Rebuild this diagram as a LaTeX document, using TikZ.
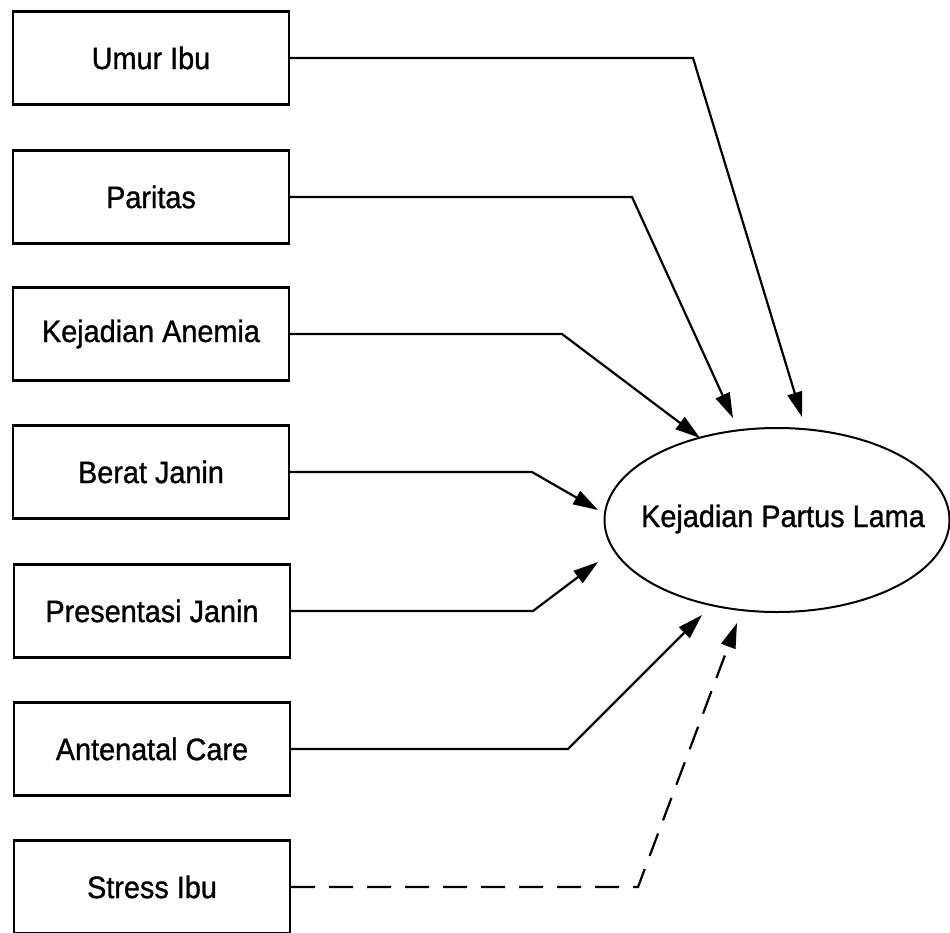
\documentclass[tikz,border=0pt]{standalone}
\usepackage{fontspec}
\setmainfont{Liberation Sans}[FakeStretch=0.93,FakeBold=1]
\usetikzlibrary{shapes.geometric,arrows.meta}
\begin{document}
\begin{tikzpicture}[x=1pt,y=-1pt,
  varbox/.style={draw, line width=2.4pt, minimum width=276pt, minimum height=93pt, inner sep=0pt, font=\fontsize{31}{36}\selectfont},
  outcome/.style={draw, ellipse, line width=2pt, minimum width=345pt, minimum height=184pt, inner sep=0pt},
  txt/.style={inner sep=0pt, font=\fontsize{31}{36}\selectfont},
  link/.style={line width=2.2pt, -{Triangle[length=25pt,width=15pt]}},
  dlink/.style={link, dash pattern=on 24pt off 14pt}]
\useasboundingbox (0,0) rectangle (950,932);
\node[varbox] (u) at (151,58) {Umur Ibu};
\node[varbox] (p) at (151,197) {Paritas};
\node[varbox] (a) at (151,334) {Kejadian Anemia};
\node[varbox] (b) at (151,472) {Berat Janin};
\node[varbox] (s) at (152,611) {Presentasi Janin};
\node[varbox] (c) at (152,749) {Antenatal Care};
\node[varbox] (i) at (152,887) {Stress Ibu};
\node[outcome] (k) at (777,520) {};
\node[txt] (kt) at (783,519) {Kejadian Partus Lama};
\coordinate (bu) at (693,58);  \coordinate (tu) at (802,417);
\coordinate (bp) at (632,197); \coordinate (tp) at (733,418);
\coordinate (ba) at (562,334); \coordinate (ta) at (700,438);
\coordinate (bb) at (532,472); \coordinate (tb) at (598,510);
\coordinate (bs) at (533,611); \coordinate (ts) at (598,562);
\coordinate (bc) at (568,749); \coordinate (tc) at (702,615);
\coordinate (bi) at (638,887); \coordinate (ti) at (737,623);
\draw[link] (u.east) -- (bu) -- (tu);
\draw[link] (p.east) -- (bp) -- (tp);
\draw[link] (a.east) -- (ba) -- (ta);
\draw[link] (b.east) -- (bb) -- (tb);
\draw[link] (s.east) -- (bs) -- (ts);
\draw[link] (c.east) -- (bc) -- (tc);
\draw[dlink] (i.east) -- (bi) -- (ti);
\end{tikzpicture}
\end{document}
